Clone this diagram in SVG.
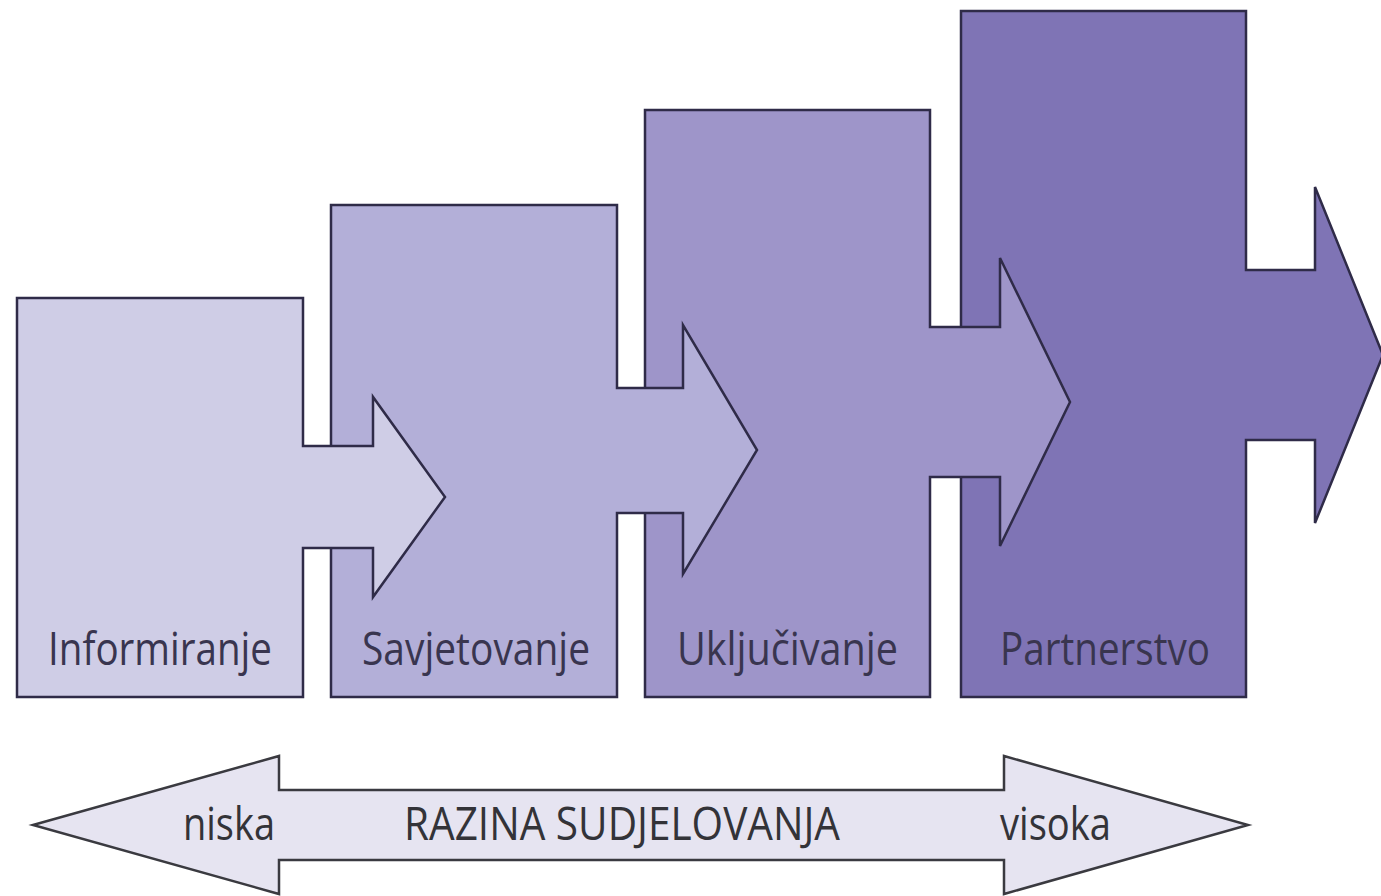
<svg xmlns="http://www.w3.org/2000/svg" width="1381" height="896" viewBox="0 0 1381 896">
<style>
.stage{stroke:#2f2b48;stroke-width:2.5;stroke-linejoin:miter}
.lbl{font-family:"Open Sans","Noto Sans","Liberation Sans",sans-serif;font-size:46px;fill:#39354f}
.blbl{font-family:"Open Sans","Noto Sans","Liberation Sans",sans-serif;font-size:46px;fill:#333338}
</style>
<rect x="0" y="0" width="1381" height="896" fill="#ffffff"/>
<g id="partnerstvo">
<path class="stage" fill="#7f74b5" d="M961,11 H1246 V270 H1315 V187 L1383,355 L1315,523 V440 H1246 V697 H961 Z"/>
<text class="lbl" x="1000" y="665" textLength="210" lengthAdjust="spacingAndGlyphs">Partnerstvo</text>
</g>
<g id="ukljucivanje">
<path class="stage" fill="#9e95c9" d="M645,110 H930 V327 H1000 V258 L1070,402 L1000,546 V477 H930 V697 H645 Z"/>
<text class="lbl" x="677" y="665" textLength="221" lengthAdjust="spacingAndGlyphs">Uključivanje</text>
</g>
<g id="savjetovanje">
<path class="stage" fill="#b3afd8" d="M331,205 H617 V388 H683 V325 L757,450 L683,574 V513 H617 V697 H331 Z"/>
<text class="lbl" x="362" y="665" textLength="228" lengthAdjust="spacingAndGlyphs">Savjetovanje</text>
</g>
<g id="informiranje">
<path class="stage" fill="#cfcde6" d="M17,298 H303 V446 H373 V397 L445,497 L373,597 V548 H303 V697 H17 Z"/>
<text class="lbl" x="48" y="665" textLength="224" lengthAdjust="spacingAndGlyphs">Informiranje</text>
</g>
<g id="razina">
<path fill="#e6e4f1" stroke="#3a3a40" stroke-width="2.5" d="M33,825 L279,756 V790 H1004 V756 L1248,825 L1004,894 V860 H279 V894 Z"/>
<text class="blbl" x="183" y="840" textLength="92" lengthAdjust="spacingAndGlyphs">niska</text>
<text class="blbl" x="404" y="840" textLength="436" lengthAdjust="spacingAndGlyphs">RAZINA SUDJELOVANJA</text>
<text class="blbl" x="1000" y="840" textLength="111" lengthAdjust="spacingAndGlyphs">visoka</text>
</g>
</svg>
